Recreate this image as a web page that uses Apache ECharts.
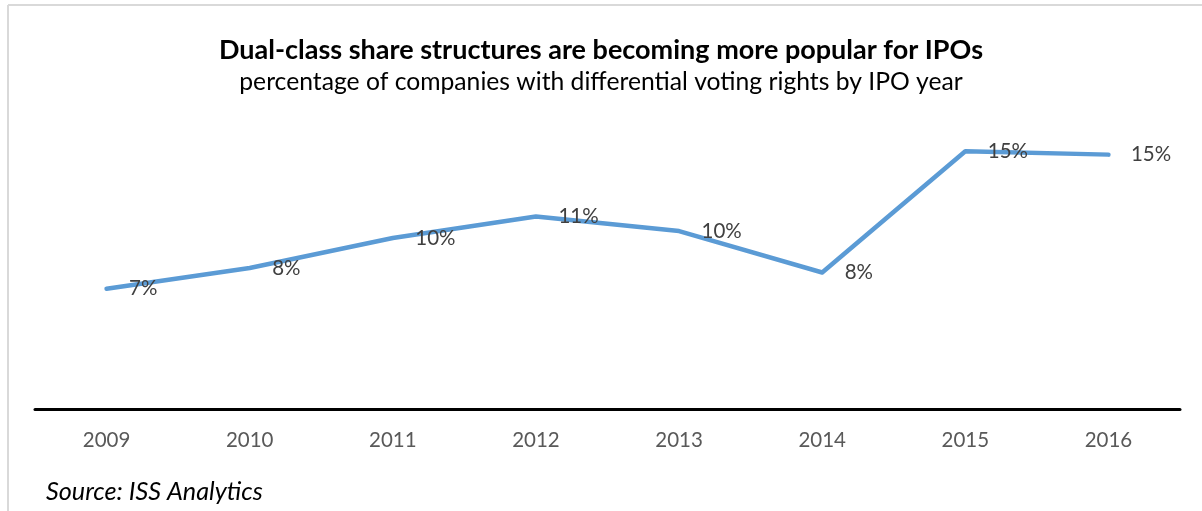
<!DOCTYPE html>
<html>
<head>
<meta charset="utf-8">
<style>
  html, body { margin: 0; padding: 0; background: #ffffff; }
  #chart { width: 1202px; height: 511px; }
</style>
<script src="https://cdn.jsdelivr.net/npm/echarts@6/dist/echarts.min.js"></script>
</head>
<body>
<div id="chart"></div>
<script>
// IPO years and share of companies with differential voting rights (%)
const years = ['2009', '2010', '2011', '2012', '2013', '2014', '2015', '2016'];
const dualClassShare = [7.0, 8.2, 9.95, 11.2, 10.35, 7.94, 15.0, 14.8];

const titleText = 'Dual-class share structures are becoming more popular for IPOs';
const subtitleText = 'percentage of companies with differential voting rights by IPO year';
const sourceText = 'Source: ISS Analytics';

const FONT = 'Lato, "Open Sans", sans-serif';

const chart = echarts.init(document.getElementById('chart'), null, { renderer: 'canvas' });

chart.setOption({
  backgroundColor: '#ffffff',
  animation: false,
  title: [
    {
      text: titleText,
      left: 'center',
      top: 32,
      textStyle: { fontFamily: FONT, fontWeight: 'bold', fontSize: 27, color: '#000000' }
    },
    {
      text: subtitleText,
      left: 'center',
      top: 65,
      textStyle: { fontFamily: FONT, fontWeight: 'normal', fontSize: 24.7, color: '#000000' }
    },
    {
      text: sourceText,
      left: 41,
      top: 474,
      textStyle: { fontFamily: FONT, fontStyle: 'italic', fontWeight: 'normal', fontSize: 25.2, color: '#000000' }
    }
  ],
  graphic: [
    // light frame around the chart area
    { type: 'line', shape: { x1: 8, y1: 5, x2: 1202, y2: 5 }, style: { stroke: '#d9d9d9', lineWidth: 2 } },
    { type: 'line', shape: { x1: 8, y1: 5, x2: 8, y2: 511 }, style: { stroke: '#d9d9d9', lineWidth: 2 } }
  ],
  grid: {
    left: 35,
    right: 22,
    top: 134,
    bottom: 102,
    containLabel: false
  },
  xAxis: {
    type: 'category',
    data: years,
    boundaryGap: true,
    axisLine: { show: true, lineStyle: { color: '#000000', width: 3 } },
    axisTick: { show: false },
    axisLabel: { fontFamily: FONT, fontSize: 20.5, color: '#595959', margin: 21 }
  },
  yAxis: {
    type: 'value',
    min: 0,
    max: 16,
    show: false,
    splitLine: { show: false }
  },
  series: [
    {
      type: 'line',
      data: dualClassShare,
      symbol: 'circle',
      symbolSize: 1,
      showSymbol: true,
      itemStyle: { color: 'rgba(0,0,0,0)' },
      lineStyle: { color: '#5b9bd5', width: 4.5, cap: 'round', join: 'round' },
      label: {
        show: true,
        position: 'right',
        distance: 22,
        fontFamily: FONT,
        fontSize: 20.5,
        color: '#404040',
        formatter: p => Math.round(p.value) + '%'
      }
    }
  ]
});
</script>
</body>
</html>
